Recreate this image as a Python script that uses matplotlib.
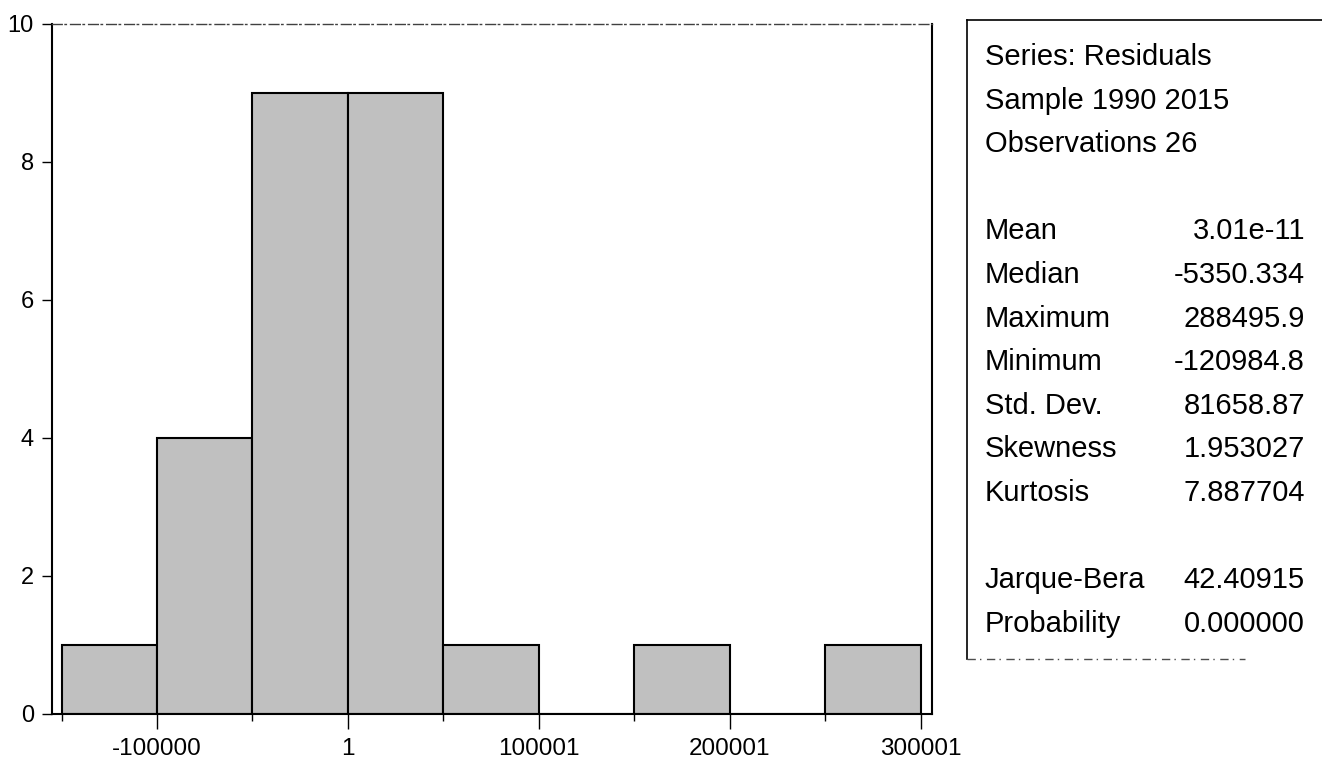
import numpy as np
import matplotlib
matplotlib.use("Agg")
import matplotlib.pyplot as plt
from matplotlib.lines import Line2D

plt.rcParams['font.family'] = ['Liberation Sans', 'DejaVu Sans']

# histogram of residuals (EViews style)
bin_edges = [-150000, -100000, -50000, 0, 50000, 100000, 150000, 200000, 250000, 300000]
counts = [1, 4, 9, 9, 1, 0, 1, 0, 1]
major_ticks = [-100000, 0, 100000, 200000, 300000]
minor_ticks = [-150000, -50000, 50000, 150000, 250000]
tick_labels = ["-100000", "1", "100001", "200001", "300001"]
y_ticks = [0, 2, 4, 6, 8, 10]

header_lines = ["Series: Residuals", "Sample 1990 2015", "Observations 26"]
stat_names = ["Mean", "Median", "Maximum", "Minimum", "Std. Dev.",
              "Skewness", "Kurtosis", "Jarque-Bera", "Probability"]
stat_values = ["3.01e-11", "-5350.334", "288495.9", "-120984.8", "81658.87",
               "1.953027", "7.887704", "42.40915", "0.000000"]

W, H = 1322, 766
fig = plt.figure(figsize=(W / 100, H / 100), dpi=100)

# axes frame in pixels: left 52, right 932, top 24, bottom 714
ax = fig.add_axes([52 / W, 1 - 714 / H, (932 - 52) / W, (714 - 24) / H])
ax.bar(bin_edges[:-1], counts, width=np.diff(bin_edges), align='edge',
       color='#c0c0c0', edgecolor='black', linewidth=1.5, zorder=2)

ax.set_xlim(-155000, 306000)
ax.set_ylim(0, 10)
ax.set_xticks(major_ticks)
ax.set_xticklabels(tick_labels)
ax.set_xticks(minor_ticks, minor=True)
ax.set_yticks(y_ticks)

ax.tick_params(axis='x', which='major', direction='out', length=11, width=1, pad=6, labelsize=17.5)
ax.tick_params(axis='x', which='minor', direction='out', length=5, width=1)
ax.tick_params(axis='y', which='major', direction='out', length=7, width=1, pad=6, labelsize=17)

for side in ['left', 'bottom', 'right']:
    ax.spines[side].set_linewidth(1.5)
    ax.spines[side].set_color('black')
ax.spines['top'].set_linewidth(1.0)
ax.spines['top'].set_color('0.25')
ax.spines['top'].set_linestyle((0, (7, 2, 1, 3)))

# statistics box
bx0, by0, by1 = 967, 20, 659
fig.add_artist(Line2D([bx0 / W, bx0 / W], [1 - by0 / H, 1 - by1 / H],
                      transform=fig.transFigure, color='black', lw=1.2))
fig.add_artist(Line2D([bx0 / W, 1.0], [1 - by0 / H, 1 - by0 / H],
                      transform=fig.transFigure, color='black', lw=1.2))
fig.add_artist(Line2D([bx0 / W, 1245 / W], [1 - by1 / H, 1 - by1 / H],
                      transform=fig.transFigure, color='0.3', lw=1.0,
                      linestyle=(0, (6, 3, 1, 4))))

row_h = 43.6
y_first = 55
label_x = 985 / W
value_x = 1305 / W
fs = 21

rows = [(t, None) for t in header_lines] + [None] + \
       list(zip(stat_names[:7], stat_values[:7])) + [None] + \
       list(zip(stat_names[7:], stat_values[7:]))

for i, row in enumerate(rows):
    if row is None:
        continue
    yc = y_first + i * row_h
    yf = 1 - (yc + 10) / H
    name, val = row
    fig.text(label_x, yf, name, ha='left', va='baseline', fontsize=fs)
    if val is not None:
        fig.text(value_x, yf, val, ha='right', va='baseline', fontsize=fs)

fig.savefig("out.png", dpi=100)
